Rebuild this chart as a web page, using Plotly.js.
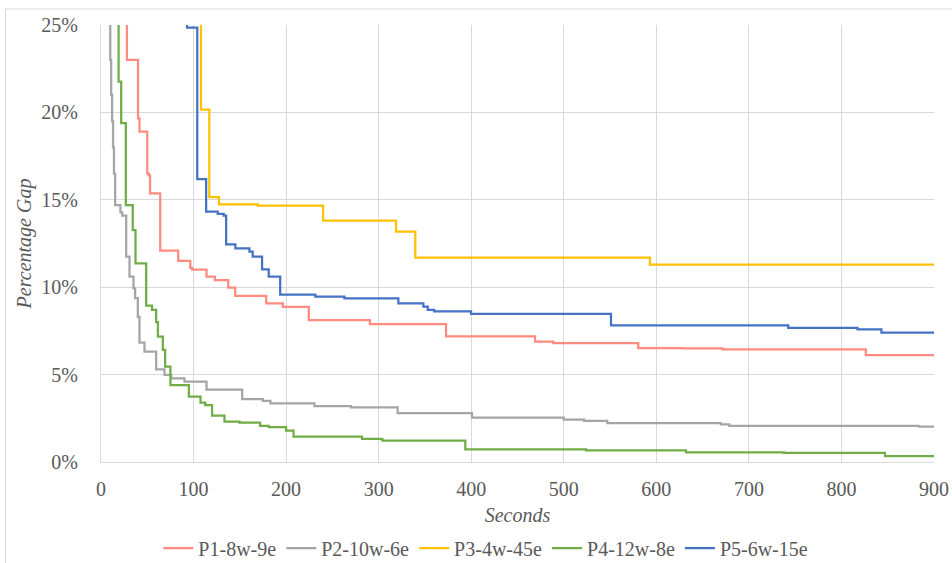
<!DOCTYPE html>
<html>
<head>
<meta charset="utf-8">
<script src="https://cdn.plot.ly/plotly-3.0.1.min.js"></script>
<style>html,body{margin:0;padding:0;background:#fff;}#chart{width:952px;height:563px;}</style>
</head>
<body>
<div id="chart"></div>
<script>
// Series data: time (seconds) and percentage gap (%)
const seriesNames = ["P1-8w-9e", "P2-10w-6e", "P3-4w-45e", "P4-12w-8e", "P5-6w-15e"];

const p1Time = [0, 28, 40, 41.6, 50, 51.6, 53, 64, 83.5, 96.5, 98.5, 114, 123, 137.5, 145, 178.5, 196.5, 224.5, 290.5, 372.8, 469, 488.7, 580.5, 628, 671.5, 826.3, 900];
const p1Gap  = [30, 23.0, 19.66, 18.9, 16.5, 16.4, 15.37, 12.09, 11.5, 11.1, 11.0, 10.6, 10.41, 9.97, 9.5, 9.08, 8.87, 8.12, 7.89, 7.19, 6.88, 6.8, 6.52, 6.5, 6.45, 6.12, 6.12];

const p2Time = [0, 9, 10, 11, 12, 13, 14, 15.3, 21, 23, 27.2, 30.8, 35.1, 36.9, 39.8, 41.6, 47, 59.6, 68.6, 75.8, 90.2, 114, 152.5, 174.8, 183, 230.6, 270.2, 320.5, 400.8, 500, 522, 547, 669.7, 678.8, 884, 900];
const p2Gap  = [30, 25.5, 23, 21, 19.5, 18, 16.5, 14.7, 14.28, 14.1, 11.75, 10.6, 9.93, 9.37, 8.3, 6.83, 6.31, 5.3, 4.98, 4.79, 4.6, 4.14, 3.6, 3.5, 3.36, 3.19, 3.13, 2.8, 2.54, 2.42, 2.35, 2.23, 2.15, 2.06, 2.02, 2.02];

const p3Time = [0, 108, 117, 127.5, 169.3, 240, 318.8, 339.6, 593, 900];
const p3Gap  = [30, 20.16, 15.16, 14.74, 14.66, 13.81, 13.18, 11.69, 11.29, 11.29];

const p4Time = [0, 19, 21.8, 26.8, 34.3, 37.3, 48.8, 55.1, 59.6, 61.5, 66.8, 69.3, 75, 94.9, 107.5, 112.7, 120, 133.4, 149.6, 171.9, 181.2, 200, 208, 282, 304, 393.6, 524, 632, 738, 847, 900];
const p4Gap  = [30, 21.76, 19.38, 14.7, 13.27, 11.37, 8.95, 8.7, 8.0, 7.17, 6.41, 5.45, 4.4, 3.74, 3.4, 3.26, 2.66, 2.31, 2.26, 2.06, 1.99, 1.79, 1.45, 1.33, 1.22, 0.72, 0.67, 0.55, 0.52, 0.34, 0.34];

const p5Time = [0, 93, 104, 113.6, 126.1, 132.6, 135.2, 145.2, 160.4, 163.9, 174, 181.2, 193.6, 231.6, 263, 321.3, 348.3, 353, 360, 399.8, 551, 742.5, 817.3, 843.2, 900];
const p5Gap  = [30, 24.85, 16.19, 14.32, 14.2, 14.1, 12.45, 12.22, 12.03, 11.75, 11.02, 10.6, 9.57, 9.46, 9.36, 9.08, 8.89, 8.7, 8.62, 8.47, 7.82, 7.67, 7.59, 7.4, 7.4];

const xTicks = [0, 100, 200, 300, 400, 500, 600, 700, 800, 900];
const yTicks = [0, 5, 10, 15, 20, 25];

const colors = ["#FF8A80", "#A5A5A5", "#FFC000", "#70AD47", "#4472C4"];
const times = [p1Time, p2Time, p3Time, p4Time, p5Time];
const gaps = [p1Gap, p2Gap, p3Gap, p4Gap, p5Gap];

const font = "Times New Roman, Tinos, Liberation Serif, DejaVu Serif, serif";
const txt = "#595959";
const grid = "#D9D9D9";

const traces = seriesNames.map((n, i) => ({
  type: "scatter",
  mode: "lines",
  name: n,
  x: times[i],
  y: gaps[i],
  line: {shape: "hv", color: colors[i], width: 2.25}
}));

const layout = {
  width: 952, height: 563,
  margin: {l: 101, r: 18, t: 25, b: 101, autoexpand: false},
  paper_bgcolor: "#fff",
  plot_bgcolor: "#fff",
  font: {family: font, color: txt, size: 19},
  showlegend: true,
  legend: {
    orientation: "h", x: 0.462, xanchor: "center", y: -0.197, yanchor: "middle",
    font: {family: font, size: 20, color: txt},
    itemwidth: 30, tracegroupgap: 0
  },
  xaxis: {
    range: [0, 900], tickvals: xTicks, ticktext: xTicks.map(String),
    showgrid: true, gridcolor: grid, gridwidth: 1,
    showline: true, linecolor: grid, linewidth: 1, mirror: false,
    zeroline: false,
    ticks: "outside", ticklen: 9, tickcolor: "rgba(0,0,0,0)",
    tickfont: {family: font, size: 20, color: txt},
    title: {text: "<i>Seconds</i>", font: {family: font, size: 20, color: txt}, standoff: 8},
    fixedrange: true
  },
  yaxis: {
    range: [0, 25], tickvals: yTicks, ticktext: yTicks.map(v => v + "%"),
    showgrid: true, gridcolor: grid, gridwidth: 1,
    showline: true, linecolor: grid, linewidth: 1,
    zeroline: false,
    ticks: "outside", ticklen: 18, tickcolor: "rgba(0,0,0,0)",
    tickfont: {family: font, size: 20, color: txt},
    title: {text: "<i>Percentage Gap</i>", font: {family: font, size: 20, color: txt}, standoff: 4},
    fixedrange: true
  },
  shapes: [
    {type: "line", xref: "paper", yref: "paper", x0: -0.1147, x1: 1.03, y0: 1.0366, y1: 1.0366, line: {color: grid, width: 1}},
    {type: "line", xref: "paper", yref: "paper", x0: -0.1147, x1: -0.1147, y0: 1.0366, y1: -0.24, line: {color: grid, width: 1}}
  ]
};

Plotly.newPlot("chart", traces, layout, {displayModeBar: false, staticPlot: true});
</script>
</body>
</html>
